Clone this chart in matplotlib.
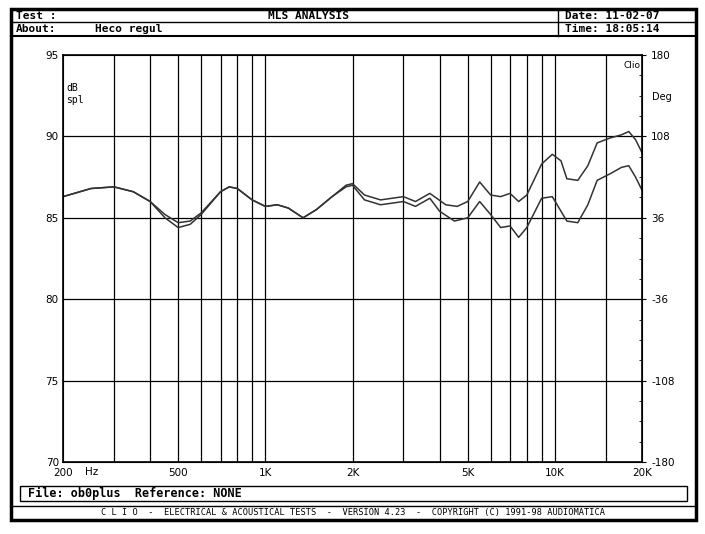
import numpy as np
import matplotlib.pyplot as plt
from matplotlib.patches import Rectangle
from matplotlib.lines import Line2D

freq_a = [200, 250, 300, 350, 400, 450, 500, 550, 600, 700, 750, 800, 900, 1000, 1100, 1200, 1350, 1500, 1700, 1900, 2000,
          2200, 2500, 3000, 3300, 3700, 4200, 4600, 5000, 5500, 6000, 6500, 7000, 7500, 8000, 9000, 9800, 10500, 11000,
          12000, 13000, 14000, 15500, 17000, 18000, 19000, 20000]
spl_a = [86.3, 86.8, 86.9, 86.6, 86.0, 85.2, 84.7, 84.8, 85.3, 86.6, 86.9, 86.8, 86.1, 85.7, 85.8, 85.6, 85.0, 85.5, 86.3, 87.0, 87.1,
         86.4, 86.1, 86.3, 86.0, 86.5, 85.8, 85.7, 86.0, 87.2, 86.4, 86.3, 86.5, 86.0, 86.4, 88.3, 88.9, 88.5, 87.4,
         87.3, 88.2, 89.6, 89.9, 90.1, 90.3, 89.8, 89.0]
freq_b = [200, 250, 300, 350, 400, 450, 500, 550, 600, 700, 750, 800, 900, 1000, 1100, 1200, 1350, 1500, 1700, 1900, 2000,
          2200, 2500, 3000, 3300, 3700, 4000, 4500, 5000, 5500, 6000, 6500, 7000, 7500, 8000, 9000, 9800, 11000,
          12000, 13000, 14000, 15500, 17000, 18000, 19000, 20000]
spl_b = [86.3, 86.8, 86.9, 86.6, 86.0, 85.0, 84.4, 84.6, 85.2, 86.6, 86.9, 86.8, 86.1, 85.7, 85.8, 85.6, 85.0, 85.5, 86.3, 86.9, 87.0,
         86.1, 85.8, 86.0, 85.7, 86.2, 85.4, 84.8, 85.0, 86.0, 85.2, 84.4, 84.5, 83.8, 84.4, 86.2, 86.3, 84.8,
         84.7, 85.8, 87.3, 87.7, 88.1, 88.2, 87.5, 86.7]

grid_freqs = [300, 400, 500, 600, 700, 800, 900, 1000, 2000, 3000, 4000, 5000, 6000, 7000, 8000, 9000, 10000, 15000]
x_ticks = [200, 500, 1000, 2000, 5000, 10000, 20000]
x_labels = ["200", "500", "1K", "2K", "5K", "10K", "20K"]
y_ticks = [70, 75, 80, 85, 90, 95]
deg_labels = ["-180", "-108", "-36", "36", "108", "180"]

W, H = 705, 534
fig = plt.figure(figsize=(7.05, 5.34), dpi=100)
mono = "DejaVu Sans Mono"

def box(x0, y0, x1, y1, lw=1.0):
    fig.add_artist(Rectangle((x0 / W, 1 - y1 / H), (x1 - x0) / W, (y1 - y0) / H,
                             transform=fig.transFigure, fill=False, lw=lw, color="black"))

def hline(x0, x1, y, lw=1.0):
    fig.add_artist(Line2D([x0 / W, x1 / W], [1 - y / H] * 2, transform=fig.transFigure, lw=lw, color="black"))

def vline(x, y0, y1, lw=1.0):
    fig.add_artist(Line2D([x / W] * 2, [1 - y0 / H, 1 - y1 / H], transform=fig.transFigure, lw=lw, color="black"))

def txt(x, y, s, **kw):
    fig.text(x / W, 1 - y / H, s, family=mono, va="center", **kw)

box(11, 9, 696, 520, lw=2.5)
hline(11, 696, 22)
hline(11, 696, 36, lw=1.5)
vline(558, 9, 36)
txt(16, 16, "Test :", fontsize=8, weight="bold")
txt(16, 29, "About:", fontsize=8, weight="bold")
txt(95, 29, "Heco regul", fontsize=8, weight="bold")
txt(308, 16, "MLS ANALYSIS", fontsize=8, weight="bold", ha="center")
txt(565, 16, "Date: 11-02-07", fontsize=8, weight="bold")
txt(565, 29, "Time: 18:05:14", fontsize=8, weight="bold")
box(20, 486, 687, 501)
txt(28, 493, "File: ob0plus  Reference: NONE", fontsize=8.5, weight="bold")
hline(11, 696, 506)
txt(353, 513, "C L I O  -  ELECTRICAL & ACOUSTICAL TESTS  -  VERSION 4.23  -  COPYRIGHT (C) 1991-98 AUDIOMATICA",
    fontsize=6.2, ha="center")
fig.text(85 / W, 1 - 472 / H, "Hz", fontsize=7.5, va="center")

ax = fig.add_axes([63 / W, 1 - 462 / H, (642 - 63) / W, (462 - 55) / H])
ax.set_xscale("log")
ax.set_xlim(200, 20000)
ax.set_ylim(70, 95)
for f in grid_freqs:
    ax.axvline(f, color="black", lw=0.9)
for y in y_ticks[1:-1]:
    ax.axhline(y, color="black", lw=0.9)
ax.plot(freq_a, spl_a, color="#333333", lw=1.1)
ax.plot(freq_b, spl_b, color="#333333", lw=1.1)

ax.set_xticks(x_ticks)
ax.set_xticklabels(x_labels, fontsize=7.5)
ax.xaxis.set_minor_locator(plt.NullLocator())
ax.set_yticks(y_ticks)
ax.set_yticklabels([str(v) for v in y_ticks], fontsize=7.5)
ax.tick_params(axis="y", length=0, pad=3)
ax.tick_params(axis="x", length=0, pad=4)
for s in ax.spines.values():
    s.set_linewidth(1.2)

ax2 = ax.twinx()
ax2.set_ylim(-180, 180)
ax2.set_yticks([-180, -108, -36, 36, 108, 180])
ax2.set_yticklabels(deg_labels, fontsize=7.5)
ax2.set_yticks(np.arange(-180, 181, 18), minor=True)
ax2.tick_params(length=3, which="major", direction="out")
ax2.tick_params(length=2, which="minor", direction="in")

ax.text(0.005, 0.93, "dB\nspl", transform=ax.transAxes, fontsize=7, family=mono, va="top")
ax.text(0.997, 0.985, "Clio", transform=ax.transAxes, fontsize=6.5, ha="right", va="top")
ax.text(1.018, 0.91, "Deg", transform=ax.transAxes, fontsize=7, va="top")

fig.savefig("out.png", dpi=100, facecolor="white")
